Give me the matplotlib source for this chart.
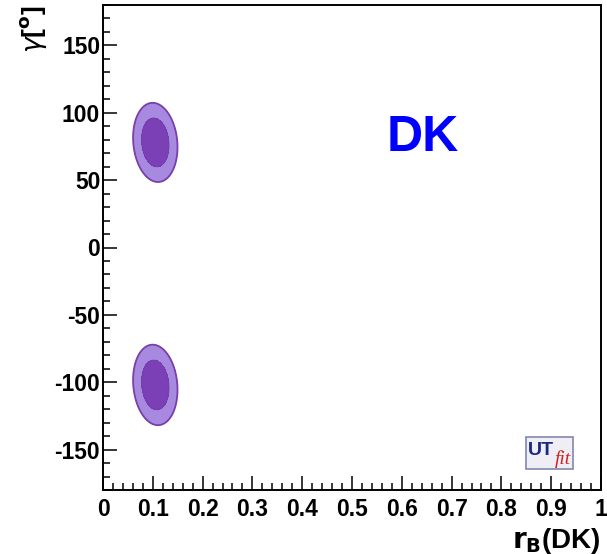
import numpy as np
import matplotlib.pyplot as plt
from matplotlib.patches import FancyBboxPatch

plt.rcParams['font.family'] = ['Liberation Sans', 'DejaVu Sans']
plt.rcParams['axes.unicode_minus'] = False

# Two solutions for gamma, each a 2D gaussian blob in (r_B, gamma)
rb_centre = [0.105, 0.105]
gamma_centre = [78.0, -102.0]
rb_sigma = [0.0182, 0.0182]
gamma_sigma = [12.0, 12.2]
rho = [-0.12, -0.12]

prob_levels = [0.95, 0.68]
x_ticks = [0, 0.1, 0.2, 0.3, 0.4, 0.5, 0.6, 0.7, 0.8, 0.9, 1]
x_ticklabels = ['0', '0.1', '0.2', '0.3', '0.4', '0.5', '0.6', '0.7', '0.8', '0.9', '1']
y_ticks = [-150, -100, -50, 0, 50, 100, 150]

# Build the density on a grid
x = np.linspace(0, 1, 600)
y = np.linspace(-180, 180, 900)
X, Y = np.meshgrid(x, y)
P = np.zeros_like(X)
for mx, my, sx, sy, r in zip(rb_centre, gamma_centre, rb_sigma, gamma_sigma, rho):
    dx = (X - mx) / sx
    dy = (Y - my) / sy
    P += np.exp(-(dx**2 - 2*r*dx*dy + dy**2) / (2*(1 - r**2)))
P /= P.sum()

# Density thresholds enclosing 68% and 95% of the probability
flat = np.sort(P.ravel())[::-1]
cum = np.cumsum(flat)
thr = [flat[np.searchsorted(cum, p)] for p in prob_levels]

fig = plt.figure(figsize=(6.07, 5.54), dpi=100)
ax = fig.add_axes([103/607, 1 - 490/554, 498/607, 485/554])

ax.contourf(X, Y, P, levels=[thr[0], thr[1], P.max()*2],
            colors=['#a78ae0', '#7b3fb6'])
ax.contour(X, Y, P, levels=[thr[0]], colors=['#7a3faa'], linewidths=1.3)
ax.contour(X, Y, P, levels=[thr[1]], colors=['#7240a8'], linewidths=0.6)

ax.set_xlim(0, 1)
ax.set_ylim(-180, 180)
ax.set_xticks(x_ticks)
ax.set_xticklabels(x_ticklabels)
ax.set_yticks(y_ticks)
ax.set_xticks(np.arange(0, 1.001, 0.02), minor=True)
ax.set_yticks(np.arange(-180, 181, 10), minor=True)
ax.tick_params(which='both', direction='in', top=False, right=False, width=1.1)
ax.tick_params(which='major', length=10)
ax.tick_params(which='minor', length=5)
ax.tick_params(axis='x', pad=6)
ax.tick_params(axis='y', pad=2)
for lab in ax.get_xticklabels() + ax.get_yticklabels():
    lab.set_fontsize(16.5)
    lab.set_fontweight('bold')
for s in ax.spines.values():
    s.set_linewidth(1.4)

ax.text(0.643, 81, 'DK', color='#0000ff', fontsize=36, fontweight='bold',
        ha='center', va='center')

ax.set_xlabel(r'$\mathbf{r_B}$(DK)', fontsize=20, fontweight='bold',
              loc='right', labelpad=3)
fig.text(0.03, 0.99, r'$\gamma$[$^\mathbf{o}$]', rotation=90, fontsize=19,
         fontweight='bold', ha='left', va='top')

# UTfit logo in the lower right corner
logo = FancyBboxPatch((0.85, 0.043), 0.093, 0.066, boxstyle='square,pad=0',
                      transform=ax.transAxes, facecolor='#eeeef4',
                      edgecolor='#8088b0', linewidth=1.2)
ax.add_patch(logo)
ax.text(0.854, 0.082, 'UT', transform=ax.transAxes, color='#1a2a80',
        fontsize=14, fontweight='bold', ha='left', va='center')
ax.text(0.908, 0.063, 'fit', transform=ax.transAxes, color='#d02020',
        fontsize=14, family=['Liberation Serif', 'DejaVu Serif'],
        style='italic', ha='left', va='center')

fig.savefig('out.png', dpi=100)
